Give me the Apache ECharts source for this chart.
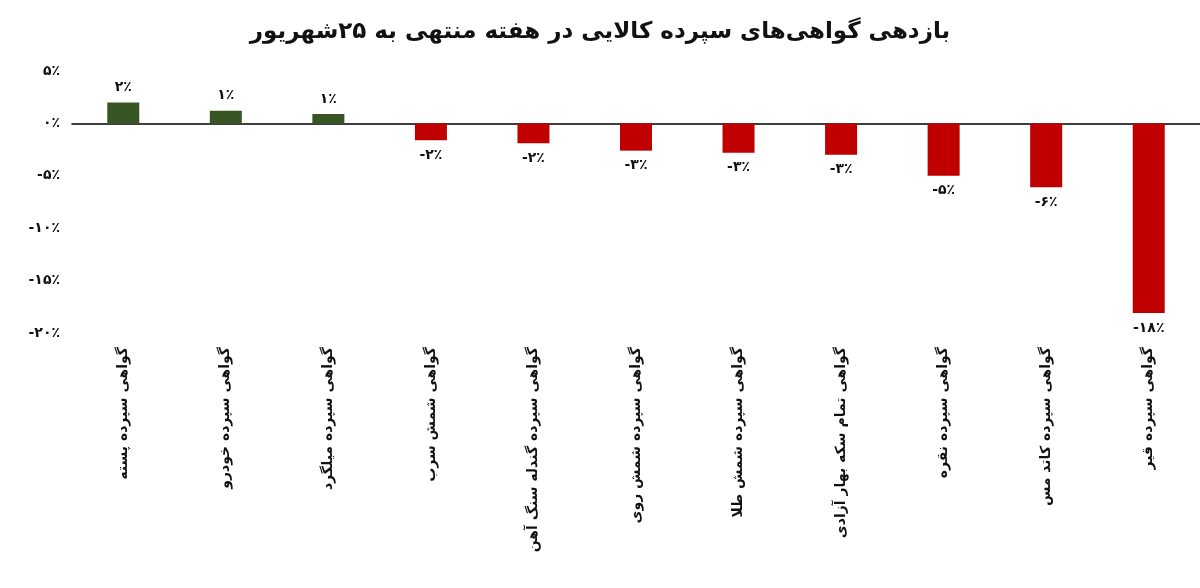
<!DOCTYPE html>
<html><head><meta charset="utf-8">
<script src="https://cdn.jsdelivr.net/npm/echarts@6/dist/echarts.min.js"></script>
<style>html,body{margin:0;padding:0;background:#fff}#c{width:1200px;height:588px}</style>
</head><body><div id="c"></div>
<script>
const categories = ["گواهی سپرده پسته","گواهی سپرده خودرو","گواهی سپرده میلگرد","گواهی شمش سرب","گواهی سپرده گندله سنگ آهن","گواهی سپرده شمش روی","گواهی سپرده شمش طلا","گواهی تمام سکه بهار آزادی","گواهی سپرده نقره","گواهی سپرده کاتد مس","گواهی سپرده قیر"];
const values = [2.0,1.2,0.9,-1.6,-1.9,-2.6,-2.8,-3.0,-5.0,-6.1,-18.1];
const valueLabels = [2,1,1,-2,-2,-3,-3,-3,-5,-6,-18];
const yTicks = [5,0,-5,-10,-15,-20];
const fa = n => String(Math.abs(n)).replace(/\d/g, d => "۰۱۲۳۴۵۶۷۸۹"[d]);
const pct = n => "\u200E" + (n < 0 ? "-" : "") + fa(n) + "٪";
const chart = echarts.init(document.getElementById('c'));
chart.setOption({
  backgroundColor:'#fff',
  title:{text:"بازدهی گواهی‌های سپرده کالایی در هفته منتهی به ۲۵شهریور",left:'center',top:16,
    textStyle:{fontFamily:'DejaVu Sans',fontSize:23,fontWeight:'bold',color:'#111'}},
  grid:{left:72,right:0,top:71,bottom:255},
  xAxis:[
    {type:'category',data:categories,position:'bottom',axisLine:{show:false,onZero:false},axisTick:{show:false},
     axisLabel:{rotate:90,interval:0,margin:14,fontFamily:'DejaVu Sans',fontSize:14,fontWeight:'bold',color:'#111'}},
    {type:'category',data:categories,position:'bottom',axisLine:{onZero:true,lineStyle:{color:'#000',width:1.5}},axisTick:{show:false},axisLabel:{show:false}}
  ],
  yAxis:{type:'value',min:-20,max:5,interval:5,splitLine:{show:false},axisLine:{show:false},axisTick:{show:false},
    axisLabel:{formatter:v=>pct(v),fontFamily:'DejaVu Sans',fontSize:14,fontWeight:'bold',color:'#111',margin:12}},
  series:[{type:'bar',xAxisIndex:1,barWidth:32,
    data:values.map((v,i)=>({value:v,itemStyle:{color:v>=0?'#375623':'#c00000'},
      label:{show:true,position:v>=0?'top':'bottom',distance:8,formatter:()=>pct(valueLabels[i])}})),
    label:{fontFamily:'DejaVu Sans',fontSize:14,fontWeight:'bold',color:'#111'}}]
});
</script></body></html>
